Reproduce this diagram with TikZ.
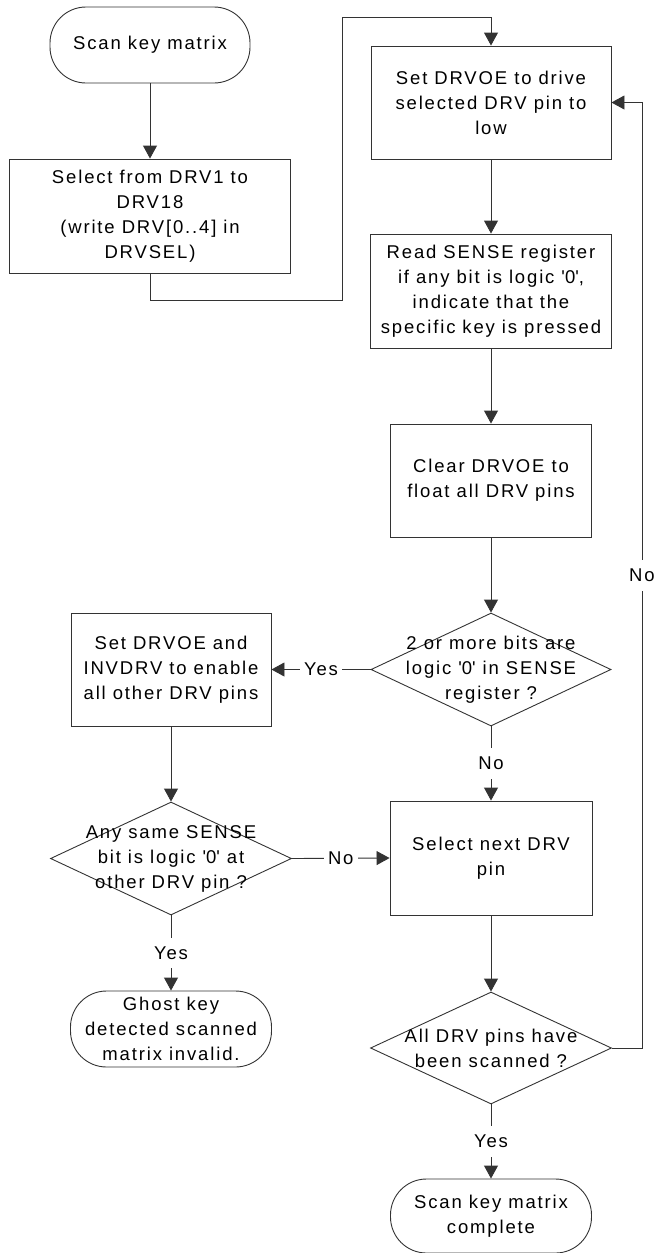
\documentclass[tikz,border=0pt]{standalone}
\usepackage{fontspec}
\setmainfont{Liberation Sans}[LetterSpace=10]
\usetikzlibrary{arrows.meta,shapes,calc}

\begin{document}
\begin{tikzpicture}[x=1pt, y=-1pt,
  every node/.style={font=\fontsize{18.5pt}{25pt}\selectfont, align=center},
  term/.style={draw=black!80, line width=0.9pt, rounded corners=36pt, minimum width=200pt, minimum height=76pt, inner sep=0pt},
  proc/.style={draw=black!80, line width=0.9pt, rectangle, minimum height=113pt, inner sep=0pt},
  decision/.style={draw=black!80, line width=0.9pt, diamond, minimum width=240pt, minimum height=113pt, inner sep=0pt},
  flow/.style={draw=black!80, line width=0.9pt, -{Triangle[length=13pt,width=14pt]}},
  tag/.style={fill=white, inner xsep=4pt, inner ysep=9pt}]

\useasboundingbox (0,0) rectangle (654,1253);

% Left column: start and driver selection
\node[term] (start) at (150,45) {Scan key matrix};
\node[proc, minimum width=281pt, minimum height=114pt] (sel) at (150,216) {Select from DRV1 to\\DRV18\\(write DRV[0..4] in\\DRVSEL)};

% Right column: drive, read, release
\node[proc, minimum width=240pt] (drive) at (491,102.5) {Set DRVOE to drive\\selected DRV pin to\\low};
\node[proc, minimum width=241pt, minimum height=114pt] (read) at (491,291) {Read SENSE register\\if any bit is logic \textquotesingle0\textquotesingle,\\indicate that the\\specific key is pressed};
\node[proc, minimum width=201pt] (clear) at (491,480.5) {Clear DRVOE to\\float all DRV pins};
\node[decision, label={center:{2 or more bits are\\logic \textquotesingle0\textquotesingle{} in SENSE\\register ?}}] (multi) at (491,669.5) {};

% Ghost key check
\node[proc, minimum width=200pt] (inv) at (171,669.5) {Set DRVOE and\\INVDRV to enable\\all other DRV pins};
\node[decision, minimum width=241pt, label={center:{Any same SENSE\\bit is logic \textquotesingle0\textquotesingle{} at\\other DRV pin ?}}] (same) at (171,858.5) {};
\node[term, minimum width=201pt] (ghost) at (171,1029) {Ghost key\\detected scanned\\matrix invalid.};

% Next pin and end
\node[proc, minimum width=202pt, minimum height=114pt] (next) at (491,858) {Select next DRV\\pin};
\node[decision, minimum width=241pt, minimum height=112pt, label={center:{All DRV pins have\\been scanned ?}}] (all) at (491,1048) {};
\node[term, minimum width=201pt, minimum height=74pt] (done) at (491,1216) {Scan key matrix\\complete};

% Flow arrows
\draw[flow] (start) -- (sel);
\draw[flow] (sel.south) |- (342,300) -- (342,17) -| (drive.north);
\draw[flow] (drive.south) -- (read.north);
\draw[flow] (read.south) -- (clear.north);
\draw[flow] (clear.south) -- (multi.north);
\draw[flow] (multi.west) -- node[tag] {Yes} (inv.east);
\draw[flow] (multi.south) -- node[tag] {No} (next.north);
\draw[flow] (inv.south) -- (same.north);
\draw[flow] (same.east) -- node[tag] {No} (next.west);
\draw[flow] (same.south) -- node[tag] {Yes} (ghost.north);
\draw[flow] (next.south) -- (all.north);
\draw[flow] (all.east) -- ++(30,0) |- node[tag, pos=0.25] {No} (drive.east);
\draw[flow] (all.south) -- node[tag] {Yes} (done.north);

\end{tikzpicture}
\end{document}
